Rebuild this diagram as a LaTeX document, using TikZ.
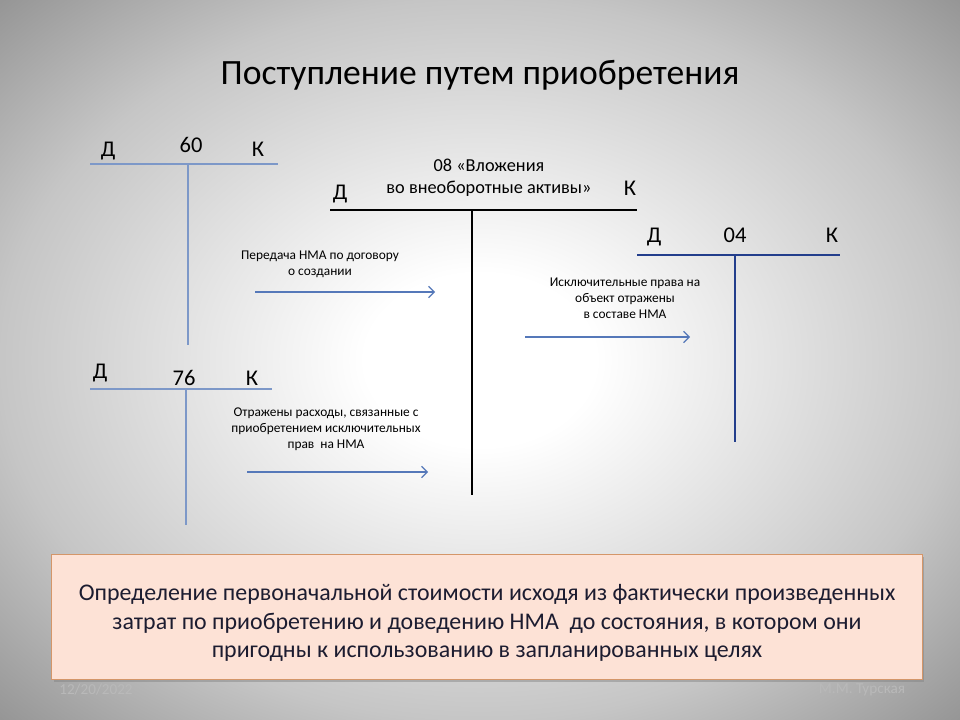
\documentclass[tikz,border=0pt]{standalone}
\usepackage{fontspec}
\setmainfont{Carlito}
\usetikzlibrary{arrows.meta,positioning,shadows}
\pgfdeclareradialshading{slidebg}{\pgfpoint{0bp}{0bp}}{color(0bp)=(white); color(6bp)=(white); color(25bp)=(gray!45); color(36bp)=(gray!85); color(50bp)=(gray!85)}
\definecolor{acclight}{RGB}{125,152,200}
\definecolor{accdark}{RGB}{35,62,140}
\definecolor{arrblue}{RGB}{85,120,185}
\definecolor{boxfill}{RGB}{253,226,214}
\definecolor{boxline}{RGB}{212,150,105}
\definecolor{boxtext}{RGB}{28,28,48}
\tikzset{>={Straight Barb[length=4pt,width=8pt]}}
\tikzset{
  acc/.style={anchor=base,font=\fontsize{16}{18}\selectfont},
  accname/.style={align=center,font=\fontsize{13}{15.5}\selectfont},
  note/.style={align=center,font=\fontsize{9.5}{11.3}\selectfont},
  flow/.style={->,draw=arrblue,line width=0.8pt},
  footer/.style={text=gray!55,font=\fontsize{10.8}{12}\selectfont}
}

\begin{document}
\begin{tikzpicture}[x=0.025cm,y=-0.025cm]
\shade[shading=slidebg] (0,0) rectangle (960,720);

\node (title) at (480,75) {\fontsize{25.3}{30}\selectfont Поступление путем приобретения};

% account 60
\coordinate (a60l) at (90,164);
\coordinate (a60r) at (278,164);
\coordinate (a60t) at (188,164);
\coordinate (a60b) at (188,345);
\node[acc] (d60) at (108,157) {Д};
\node[acc] (n60) at (191,153) {60};
\node[acc] (k60) at (258,157) {К};
\begin{scope}[line width = 1.2pt, color=acclight]
\draw (a60l) -- (a60r);
\draw (a60t) -- (a60b);
\end{scope}

% account 76
\coordinate (a76l) at (90,389);
\coordinate (a76r) at (272,389);
\coordinate (a76t) at (186,389);
\coordinate (a76b) at (186,525);
\node[acc] (d76) at (100,379) {Д};
\node[acc] (n76) at (184,386) {76};
\node[acc] (k76) at (252,386) {К};
\begin{scope}[line width = 1.2pt, color=acclight]
\draw (a76l) -- (a76r);
\draw (a76t) -- (a76b);
\end{scope}

% account 08
\coordinate (a08l) at (330,210);
\coordinate (a08r) at (637,210);
\coordinate (a08t) at (472,210);
\coordinate (a08b) at (472,495);
\node[acc] (d08) at (340,200) {Д};
\node[acc] (k08) at (630,196) {К};
\node[accname] (n08) at (489,178) {08 «Вложения\\во внеоборотные активы»};
\begin{scope}[line width = 1.5pt, color=black]
\draw (a08l) -- (a08r);
\draw (a08t) -- (a08b);
\end{scope}

% account 04
\coordinate (a04l) at (637,255);
\coordinate (a04r) at (840,255);
\coordinate (a04t) at (735,255);
\coordinate (a04b) at (735,442);
\node[acc] (d04) at (654,243) {Д};
\node[acc] (n04) at (735,243) {04};
\node[acc] (k04) at (832,243) {К};
\begin{scope}[line width = 1.2pt, color=accdark]
\draw (a04l) -- (a04r);
\draw (a04t) -- (a04b);
\end{scope}

% entries
\node[note] (t1) at (320,264) {Передача НМА по договору\\о создании};
\coordinate (f1s) at (255,292);
\coordinate (f1e) at (435,292);
\draw[flow] (f1s) -- (f1e);

\node[note] (t2) at (625,298) {Исключительные права на\\объект отражены\\в составе НМА};
\coordinate (f2s) at (525,337);
\coordinate (f2e) at (690,337);
\draw[flow] (f2s) -- (f2e);

\node[note] (t3) at (326,429) {Отражены расходы, связанные с\\приобретением исключительных\\прав\ \ на НМА};
\coordinate (f3s) at (247,472);
\coordinate (f3e) at (428,472);
\draw[flow] (f3s) -- (f3e);

% rule box
\node[draw=boxline, fill=boxfill, line width=0.8pt,
      drop shadow={shadow xshift=1.5pt, shadow yshift=-2pt, opacity=0.45},
      minimum width=21.75cm, minimum height=3.125cm] (rule) at (487,617) {};
\node[align=center, text=boxtext, font=\fontsize{17}{20.5}\selectfont] (ruletext) at (487,623)
  {Определение первоначальной стоимости исходя из фактически произведенных\\
   затрат по приобретению и доведению НМА\ \ до состояния, в котором они\\
   пригодны к использованию в запланированных целях};

\node[footer] (date) at (96,690) {12/20/2022};
\node[footer] (author) at (862,690) {М.М. Турская};
%\draw[help lines] (0,0) grid[step=40] (960,720);
\end{tikzpicture}
\end{document}
